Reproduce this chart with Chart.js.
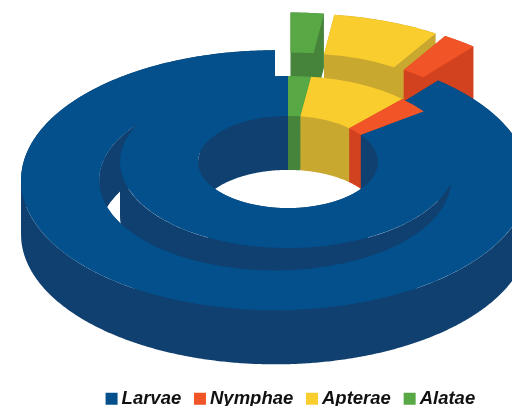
<!DOCTYPE html>
<html>
<head>
<meta charset="utf-8">
<style>html,body{margin:0;padding:0;background:#fff}canvas{display:block}</style>
<script src="https://cdn.jsdelivr.net/npm/chart.js@4/dist/chart.umd.min.js"></script>
</head>
<body>
<canvas id="c" width="512" height="406"></canvas>
<script>
// Slices run clockwise from 12 o'clock; the legend shows them reversed.
const categories = ['Alatae', 'Apterae', 'Nymphae', 'Larvae'];
const outerRingValues = [2.1, 6.8, 2.2, 88.9];
const innerRingValues = [2.2, 9.7, 3.1, 85.0];
const topColors = ['#58a845', '#facd2e', '#f15527', '#03508c'];
const wallColors = ['#46843c', '#c9a82f', '#d2421f', '#10406f'];

// Projection of the flat doughnut into the tilted 3D view
const view = {cx: 288, cy: 162, outerR: 254, squash: 0.512, depth: 54, explode: 38};

function project(ctx, arc, scale, explode) {
  const mid = (arc.startAngle + arc.endAngle) / 2;
  const ex = Math.cos(mid) * explode;
  const ey = Math.sin(mid) * explode * view.squash;
  ctx.setTransform(scale, 0, 0, scale * view.squash, view.cx + ex, view.cy + ey);
}

function topFace(ctx, arc, scale, color, explode) {
  ctx.save();
  project(ctx, arc, scale, explode);
  ctx.fillStyle = color;
  ctx.beginPath();
  ctx.arc(0, 0, arc.outerRadius, arc.startAngle, arc.endAngle);
  ctx.arc(0, 0, arc.innerRadius, arc.endAngle, arc.startAngle, true);
  ctx.closePath();
  ctx.fill();
  ctx.restore();
}

function wallFaces(ctx, arc, scale, color, explode) {
  const drop = view.depth / (scale * view.squash);
  const {startAngle: a0, endAngle: a1, innerRadius: ri, outerRadius: ro} = arc;
  const n = Math.ceil((a1 - a0) / (Math.PI / 360));
  ctx.save();
  project(ctx, arc, scale, explode);
  ctx.fillStyle = color;
  ctx.beginPath();
  const quad = (x0, y0, x1, y1) => {
    if (x1 < x0) { [x0, y0, x1, y1] = [x1, y1, x0, y0]; }
    ctx.moveTo(x0, y0);
    ctx.lineTo(x1, y1);
    ctx.lineTo(x1, y1 + drop);
    ctx.lineTo(x0, y0 + drop);
    ctx.closePath();
  };
  // curved outer and inner walls, as one path of quads with a single winding
  [ro, ri].forEach(r => {
    for (let k = 0; k < n; k++) {
      const t0 = a0 + (a1 - a0) * k / n, t1 = a0 + (a1 - a0) * (k + 1) / n;
      quad(r * Math.cos(t0), r * Math.sin(t0), r * Math.cos(t1), r * Math.sin(t1));
    }
  });
  // the two flat end walls
  [a0, a1].forEach(a => {
    const c = Math.cos(a), s = Math.sin(a);
    quad(ri * c, ri * s, ro * c, ro * s);
  });
  ctx.fill();
  ctx.restore();
}

const extrude3d = {
  id: 'extrude3d',
  beforeDatasetsDraw(chart) {
    const ctx = chart.ctx;
    const outer = chart.getDatasetMeta(0).data;
    const inner = chart.getDatasetMeta(2).data;
    const scale = view.outerR / outer[0].outerRadius;
    const walls = (arc, i, ex) => wallFaces(ctx, arc, scale, wallColors[i], ex);
    const top = (arc, i, ex) => topFace(ctx, arc, scale, topColors[i], ex);
    // exploded small slices of the outer ring sit at the back
    for (let i = 0; i < 3; i++) { walls(outer[i], i, view.explode); top(outer[i], i, view.explode); }
    // walls of the inner ring
    inner.forEach((arc, i) => walls(arc, i, 0));
    // the big slice of the outer ring
    walls(outer[3], 3, view.explode);
    top(outer[3], 3, view.explode);
    // top of the inner ring
    inner.forEach((arc, i) => top(arc, i, 0));
    return false;
  }
};

new Chart(document.getElementById('c'), {
  type: 'doughnut',
  plugins: [extrude3d],
  data: {
    labels: categories,
    datasets: [
      {label: 'Outer', data: outerRingValues, backgroundColor: topColors, weight: 78, borderWidth: 0},
      {label: 'Gap', data: [1], backgroundColor: 'rgba(0,0,0,0)', weight: 8, borderWidth: 0},
      {label: 'Inner', data: innerRingValues, backgroundColor: topColors, weight: 78, borderWidth: 0}
    ]
  },
  options: {
    responsive: false,
    animation: false,
    cutout: '35.43%',
    layout: {padding: {bottom: -12, left: 74}},
    plugins: {
      tooltip: {enabled: false},
      legend: {
        position: 'bottom',
        reverse: true,
        labels: {
          color: '#111',
          font: {family: '"Liberation Sans"', size: 18.5, style: 'italic', weight: 'bold'},
          boxWidth: 1.5,
          boxHeight: 1.5,
          padding: 18,
          generateLabels(chart) {
            const base = Chart.overrides.doughnut.plugins.legend.labels.generateLabels(chart);
            return base.map(item => ({...item, strokeStyle: item.fillStyle, lineWidth: 10.5}));
          }
        }
      }
    }
  }
});
</script>
</body>
</html>
